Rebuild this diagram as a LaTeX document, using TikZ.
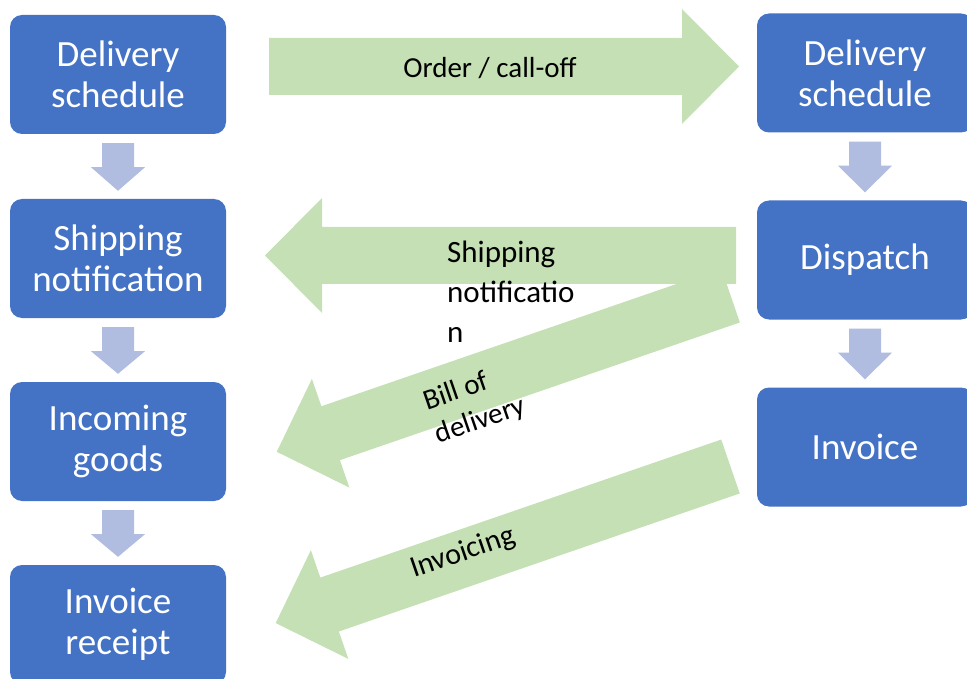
\documentclass[tikz,border=0pt]{standalone}
\usepackage{fontspec}
\setmainfont{Carlito}
\usetikzlibrary{calc}
\definecolor{boxblue}{HTML}{4472C4}
\definecolor{flowgreen}{HTML}{C5E0B4}
\definecolor{steplilac}{HTML}{B0BCE0}
\tikzset{
  stage/.style={rectangle, rounded corners=12pt, fill=boxblue, text=white,
    minimum width=216pt, minimum height=119pt, align=center, inner sep=0pt,
    font=\fontsize{37}{41}\selectfont},
  flowlabel/.style={inner sep=0pt, align=left, font=\fontsize{29}{35}\selectfont},
  pics/blockarrow/.style={code={
    \fill[flowgreen] (0,-28.5) -- (#1,-28.5) -- (#1,-57.5) -- (#1+57,0)
      -- (#1,57.5) -- (#1,28.5) -- (0,28.5) -- cycle;}},
}
\begin{document}
\begin{tikzpicture}[x=1pt, y=-1pt]
  \useasboundingbox (0,0) rectangle (967,679);
  \clip (0,0) rectangle (967,679);

  % customer
  \node[stage] (schedL) at (118,74.5) {Delivery\\schedule};
  \node[stage] (shipL) at (118,258.5) {Shipping\\notification};
  \node[stage] (goodsL) at (118,441.5) {Incoming\\goods};
  \node[stage] (receiptL) at (118,624.5) {Invoice\\receipt};

  % supplier
  \node[stage] (schedR) at (865,73) {Delivery\\schedule};
  \node[stage] (dispatchR) at (865,260) {Dispatch};
  \node[stage] (invoiceR) at (865,447) {Invoice};

  % steps down each column
  \foreach \a/\b in {schedL/shipL, shipL/goodsL, goodsL/receiptL, schedR/dispatchR, dispatchR/invoiceR}
    \fill[steplilac] ($(\a.south)+(-16,9)$) -- ($(\a.south)+(16,9)$) -- ($(\a.south)+(16,33)$)
      -- ($(\a.south)+(27,33)$) -- ($(\b.north)+(0,-8)$) -- ($(\a.south)+(-27,33)$)
      -- ($(\a.south)+(-16,33)$) -- cycle;

  % flows between the two sides
  \pic at (269,66.5) {blockarrow=413};
  \pic[rotate=180] at (736,255.5) {blockarrow=414};
  \pic[rotate=199] at (730.6,295.5) {blockarrow=423};
  \pic[rotate=199] at (730.5,466.5) {blockarrow=424};

  \node[flowlabel] (orderlbl) at (490,68) {Order / call-off};
  \node[flowlabel, anchor=north west, font=\fontsize{31}{40}\selectfont] (shiplbl) at (447,241) {Shipping\\notificatio\\n};
  \node[flowlabel, anchor=north west, rotate=19] (billlbl) at (420.5,391) {Bill of\\delivery};
  \node[flowlabel, anchor=base west, rotate=19, font=\fontsize{30}{35}\selectfont] (invlbl) at (414,578) {Invoicing};
\end{tikzpicture}
\end{document}
